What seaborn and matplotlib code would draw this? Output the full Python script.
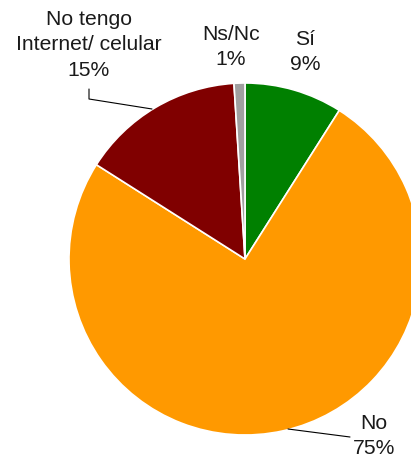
import matplotlib
matplotlib.use("Agg")
import matplotlib.pyplot as plt
import seaborn as sns

sns.set_theme(style="white")
plt.rcParams['font.family'] = ['Liberation Sans', 'DejaVu Sans']

# datos
categorias = ['Sí', 'No', 'No tengo\nInternet/ celular', 'Ns/Nc']
valores = [9, 75, 15, 1]
colores = ['#008000', '#FF9900', '#800000', '#A0A0A0']

W, H = 411, 464
CX, CY, R = 245, 260, 176


def to_data(px, py):
    return (px - CX) / R, (CY - py) / R


fig = plt.figure(figsize=(W / 100, H / 100), dpi=100)
ax = fig.add_axes([0, 0, 1, 1])
ax.pie(valores, colors=colores, startangle=90, counterclock=False,
       radius=1, wedgeprops=dict(edgecolor='white', linewidth=1.2))
ax.set_xlim(to_data(0, 0)[0], to_data(W, 0)[0])
ax.set_ylim(to_data(0, H)[1], to_data(0, 0)[1])
ax.set_aspect('auto')
ax.axis('off')

# etiquetas (posición en píxeles)
pos_etiquetas = [(305, 52), (374, 436), (89, 45), (231, 47)]
for cat, val, (px, py) in zip(categorias, valores, pos_etiquetas):
    x, y = to_data(px, py)
    ax.text(x, y, f"{cat}\n{val}%", ha='center', va='center',
            fontsize=15.2, color='#1a1a1a', linespacing=1.45)

# líneas guía
for pts in [[(89, 90), (89, 100), (152, 110)], [(288, 430), (350, 438)]]:
    xs, ys = zip(*[to_data(*p) for p in pts])
    ax.plot(xs, ys, color='black', linewidth=0.8)

fig.savefig('out.png', dpi=100)
